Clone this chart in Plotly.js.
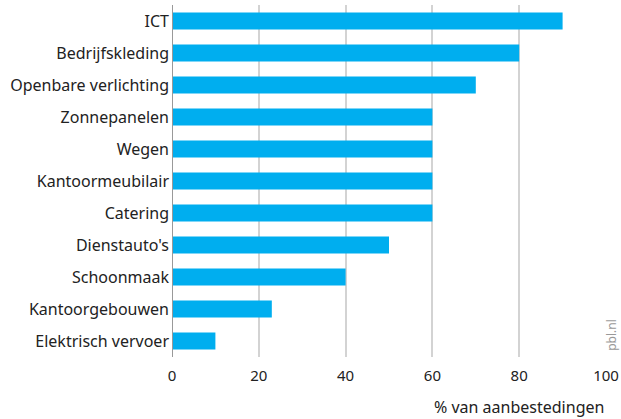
<!DOCTYPE html>
<html>
<head>
<meta charset="utf-8">
<script src="https://cdn.plot.ly/plotly-3.0.1.min.js"></script>
<style>html,body{margin:0;padding:0;background:#fff;}#chart{width:621px;height:419px;}</style>
</head>
<body>
<div id="chart"></div>
<script>
var categories = ["ICT","Bedrijfskleding","Openbare verlichting","Zonnepanelen","Wegen","Kantoormeubilair","Catering","Dienstauto's","Schoonmaak","Kantoorgebouwen","Elektrisch vervoer"];
var values = [90,80,70,60,60,60,60,50,40,23,10];
var xTicks = [0,20,40,60,80,100];

var font = "Noto Sans, Open Sans, sans-serif";

Plotly.newPlot("chart", [{
  type: "bar",
  orientation: "h",
  y: categories,
  x: values,
  marker: {color: "#00aeef"},
  width: 0.53,
  hoverinfo: "none"
}], {
  width: 621, height: 419,
  margin: {l: 172, r: 15, t: 5, b: 62},
  paper_bgcolor: "#fff", plot_bgcolor: "#fff",
  showlegend: false,
  font: {family: font, size: 16, color: "#222"},
  xaxis: {
    range: [0, 100],
    tickvals: xTicks,
    ticktext: xTicks.map(String),
    showgrid: true, gridcolor: "#d3d3d3", gridwidth: 2,
    zeroline: false, showline: false, ticks: "",
    ticklabelstandoff: 8,
    tickfont: {family: font, size: 15, color: "#222"},
    fixedrange: true
  },
  yaxis: {
    autorange: "reversed",
    showgrid: false, zeroline: false,
    showline: false, ticks: "",
    ticklabelstandoff: 2,
    tickfont: {family: font, size: 16, color: "#222"},
    fixedrange: true
  },
  shapes: [{
    type: "line", xref: "x", yref: "paper",
    x0: 0, x1: 0, y0: 0, y1: 1,
    line: {color: "#999", width: 2}
  }],
  annotations: [{
    text: "% van aanbestedingen",
    xref: "paper", yref: "paper",
    x: 1, y: -0.142, xanchor: "right", yanchor: "middle",
    showarrow: false,
    font: {family: font, size: 16, color: "#222"}
  }, {
    text: "pbl.nl",
    xref: "paper", yref: "paper",
    x: 1.011, y: 0.0625, xanchor: "center", yanchor: "middle",
    textangle: -90,
    showarrow: false,
    font: {family: font, size: 12, color: "#999"}
  }]
}, {displayModeBar: false, staticPlot: true});
</script>
</body>
</html>
